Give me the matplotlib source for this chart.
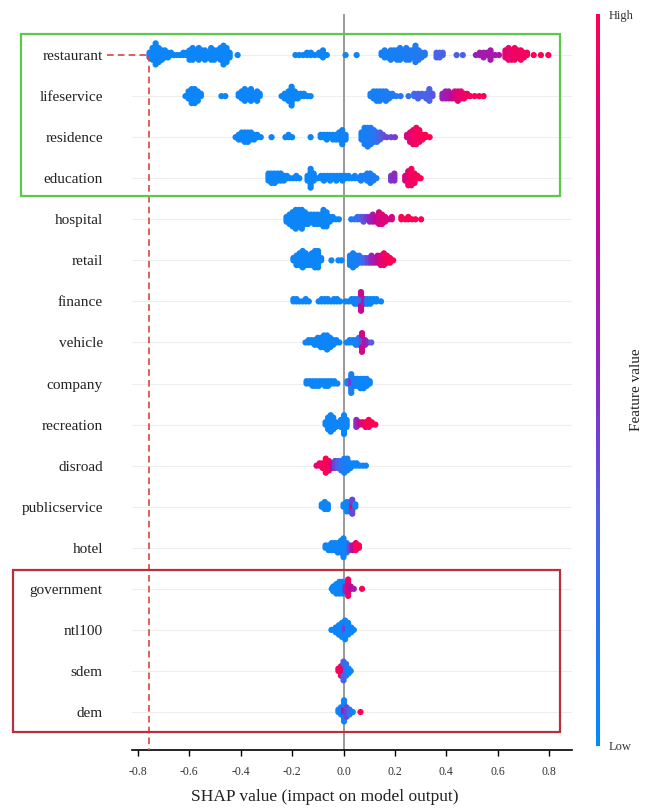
import numpy as np
import matplotlib
matplotlib.use("Agg")
import matplotlib.pyplot as plt
from matplotlib.colors import LinearSegmentedColormap
from matplotlib.cm import ScalarMappable
from matplotlib.patches import Rectangle

plt.rcParams['font.family'] = ['Liberation Serif', 'DejaVu Serif']
plt.rcParams['axes.unicode_minus'] = False

# each entry: (shap value, number of samples, normalised feature value)
restaurant = [
    (-0.755, 3, 0.05), (-0.743, 6, 0.05), (-0.731, 10, 0.05), (-0.719, 7, 0.05), (-0.707, 5, 0.05),
    (-0.695, 4, 0.05), (-0.683, 3, 0.05), (-0.671, 2, 0.05), (-0.659, 1, 0.05), (-0.647, 1, 0.05),
    (-0.635, 1, 0.05), (-0.623, 2, 0.05), (-0.611, 2, 0.05), (-0.599, 5, 0.05), (-0.587, 6, 0.05),
    (-0.575, 4, 0.05), (-0.563, 6, 0.05), (-0.551, 4, 0.05), (-0.539, 5, 0.05), (-0.527, 3, 0.05),
    (-0.515, 6, 0.05), (-0.503, 5, 0.05), (-0.491, 4, 0.05), (-0.479, 6, 0.05), (-0.467, 9, 0.05),
    (-0.455, 7, 0.05), (-0.443, 3, 0.05), (-0.412, 1, 0.05),
    (-0.187, 1, 0.05), (-0.172, 1, 0.05), (-0.157, 1, 0.05), (-0.142, 2, 0.05), (-0.127, 2, 0.05),
    (-0.112, 1, 0.05), (-0.095, 2, 0.05), (-0.080, 4, 0.05), (-0.065, 1, 0.05),
    (0.008, 1, 0.05), (0.051, 1, 0.05),
    (0.148, 2, 0.08), (0.160, 4, 0.08), (0.172, 3, 0.08), (0.184, 5, 0.1), (0.196, 4, 0.1),
    (0.208, 5, 0.1), (0.220, 6, 0.1), (0.232, 4, 0.1), (0.244, 6, 0.12), (0.256, 5, 0.12),
    (0.268, 4, 0.12), (0.280, 8, 0.12), (0.292, 5, 0.15), (0.304, 3, 0.15), (0.316, 2, 0.15),
    (0.362, 3, 0.3), (0.374, 3, 0.3), (0.386, 2, 0.3), (0.440, 1, 0.3), (0.464, 1, 0.3),
    (0.515, 1, 0.55), (0.530, 2, 0.6), (0.545, 3, 0.6), (0.558, 2, 0.6), (0.572, 5, 0.62),
    (0.590, 1, 0.6), (0.605, 1, 0.65),
    (0.630, 4, 0.85), (0.642, 6, 0.9), (0.654, 5, 0.9), (0.666, 6, 0.95), (0.678, 4, 0.9),
    (0.690, 5, 0.95), (0.702, 3, 0.95), (0.714, 2, 0.95), (0.740, 1, 1.0), (0.768, 1, 1.0),
    (0.797, 1, 1.0)]
lifeservice = [
    (-0.615, 1, 0.05), (-0.603, 4, 0.05), (-0.591, 7, 0.05), (-0.579, 7, 0.05), (-0.567, 5, 0.05),
    (-0.555, 2, 0.05), (-0.475, 1, 0.05), (-0.460, 1, 0.05),
    (-0.408, 2, 0.05), (-0.396, 4, 0.05), (-0.384, 6, 0.05), (-0.372, 4, 0.05), (-0.360, 6, 0.05),
    (-0.348, 3, 0.05), (-0.336, 5, 0.05), (-0.326, 2, 0.05),
    (-0.241, 1, 0.05), (-0.229, 3, 0.05), (-0.214, 5, 0.05), (-0.202, 9, 0.05), (-0.190, 4, 0.05),
    (-0.178, 3, 0.05), (-0.166, 2, 0.05), (-0.154, 2, 0.05), (-0.140, 1, 0.05), (-0.128, 1, 0.05),
    (0.105, 2, 0.08), (0.117, 4, 0.08), (0.129, 5, 0.1), (0.141, 5, 0.1), (0.153, 4, 0.1),
    (0.165, 5, 0.12), (0.177, 3, 0.12), (0.190, 2, 0.12), (0.205, 1, 0.15), (0.222, 1, 0.15),
    (0.253, 1, 0.2), (0.275, 2, 0.25), (0.290, 3, 0.3), (0.305, 2, 0.3), (0.322, 3, 0.3),
    (0.334, 6, 0.3), (0.346, 2, 0.35),
    (0.385, 3, 0.55), (0.397, 4, 0.6), (0.409, 4, 0.62), (0.421, 3, 0.7), (0.433, 4, 0.8),
    (0.445, 5, 0.85), (0.457, 4, 0.9), (0.469, 3, 0.9), (0.481, 2, 0.95), (0.493, 1, 0.95),
    (0.510, 1, 1.0), (0.528, 1, 1.0), (0.545, 1, 1.0)]
residence = [
    (-0.420, 1, 0.05), (-0.408, 3, 0.05), (-0.396, 4, 0.05), (-0.384, 5, 0.05), (-0.372, 5, 0.05),
    (-0.360, 4, 0.05), (-0.348, 3, 0.05), (-0.336, 2, 0.05), (-0.322, 1, 0.05),
    (-0.280, 1, 0.05), (-0.226, 1, 0.05), (-0.214, 2, 0.05), (-0.200, 1, 0.05), (-0.128, 1, 0.05),
    (-0.089, 2, 0.05), (-0.077, 2, 0.05), (-0.065, 3, 0.05), (-0.053, 2, 0.05), (-0.041, 3, 0.05),
    (-0.029, 3, 0.05), (-0.017, 4, 0.05), (-0.005, 7, 0.08), (0.008, 3, 0.08),
    (0.070, 4, 0.08), (0.082, 8, 0.1), (0.094, 9, 0.1), (0.106, 8, 0.12), (0.118, 6, 0.15),
    (0.130, 5, 0.2), (0.142, 4, 0.3), (0.154, 2, 0.35), (0.168, 1, 0.4), (0.185, 1, 0.4),
    (0.200, 1, 0.45),
    (0.247, 2, 0.8), (0.259, 5, 0.85), (0.271, 7, 0.9), (0.283, 8, 0.95), (0.295, 6, 0.95),
    (0.307, 3, 1.0), (0.319, 2, 1.0), (0.335, 1, 1.0)]
education = [
    (-0.292, 4, 0.05), (-0.280, 5, 0.05), (-0.268, 5, 0.05), (-0.256, 4, 0.05), (-0.244, 4, 0.05),
    (-0.232, 3, 0.05), (-0.220, 2, 0.05), (-0.208, 1, 0.05), (-0.196, 1, 0.05), (-0.184, 2, 0.05),
    (-0.172, 1, 0.05), (-0.140, 3, 0.05), (-0.128, 9, 0.05), (-0.116, 4, 0.05),
    (-0.100, 1, 0.05), (-0.088, 2, 0.05), (-0.076, 3, 0.05), (-0.064, 2, 0.05), (-0.052, 3, 0.05),
    (-0.040, 2, 0.05), (-0.028, 3, 0.05), (-0.016, 2, 0.05), (-0.004, 3, 0.05), (0.008, 2, 0.05),
    (0.020, 2, 0.05), (0.032, 1, 0.05), (0.044, 2, 0.05), (0.056, 1, 0.05), (0.068, 3, 0.08),
    (0.080, 2, 0.08), (0.092, 4, 0.1), (0.104, 5, 0.1), (0.116, 3, 0.12), (0.128, 1, 0.12),
    (0.185, 3, 0.45), (0.198, 4, 0.5),
    (0.240, 3, 0.8), (0.252, 7, 0.9), (0.264, 8, 0.95), (0.276, 5, 0.95), (0.288, 2, 1.0),
    (0.300, 1, 1.0)]
hospital = [
    (-0.222, 3, 0.05), (-0.210, 5, 0.05), (-0.198, 7, 0.05), (-0.186, 9, 0.05), (-0.174, 8, 0.05),
    (-0.162, 9, 0.05), (-0.150, 6, 0.05), (-0.138, 5, 0.05), (-0.126, 4, 0.05), (-0.114, 5, 0.05),
    (-0.102, 5, 0.05), (-0.090, 5, 0.05), (-0.078, 8, 0.05), (-0.066, 7, 0.05), (-0.054, 3, 0.05),
    (-0.042, 2, 0.05), (-0.030, 1, 0.05), (-0.018, 1, 0.05),
    (0.030, 1, 0.1), (0.042, 1, 0.15), (0.054, 2, 0.2), (0.066, 2, 0.3), (0.078, 3, 0.35),
    (0.090, 2, 0.45), (0.102, 3, 0.55), (0.114, 4, 0.6), (0.126, 3, 0.7), (0.138, 6, 0.8),
    (0.150, 5, 0.85), (0.162, 3, 0.85), (0.176, 1, 0.8), (0.188, 2, 0.8),
    (0.225, 2, 1.0), (0.240, 1, 1.0), (0.252, 2, 1.0), (0.266, 1, 1.0), (0.280, 1, 1.0),
    (0.302, 1, 1.0)]
retail = [
    (-0.195, 2, 0.05), (-0.183, 5, 0.05), (-0.171, 6, 0.05), (-0.159, 8, 0.05), (-0.147, 6, 0.05),
    (-0.135, 5, 0.05), (-0.123, 6, 0.05), (-0.111, 8, 0.05), (-0.099, 8, 0.05), (-0.087, 2, 0.05),
    (-0.047, 1, 0.05), (-0.020, 1, 0.05), (-0.008, 1, 0.05),
    (0.025, 5, 0.08), (0.037, 7, 0.08), (0.049, 5, 0.1), (0.061, 4, 0.12), (0.073, 3, 0.2),
    (0.085, 3, 0.3), (0.097, 3, 0.4), (0.109, 4, 0.55), (0.121, 3, 0.6), (0.133, 4, 0.7),
    (0.145, 5, 0.85), (0.157, 6, 0.9), (0.169, 4, 0.95), (0.181, 3, 1.0), (0.193, 1, 1.0)]
finance = [
    (-0.195, 2, 0.05), (-0.183, 2, 0.05), (-0.171, 1, 0.05), (-0.159, 1, 0.05), (-0.147, 2, 0.05),
    (-0.135, 1, 0.05),
    (-0.097, 1, 0.05), (-0.085, 2, 0.05), (-0.073, 2, 0.05), (-0.061, 2, 0.05), (-0.049, 1, 0.05),
    (-0.037, 2, 0.05), (-0.025, 2, 0.05), (-0.013, 1, 0.05),
    (0.008, 1, 0.05), (0.020, 1, 0.05), (0.032, 2, 0.05), (0.044, 3, 0.08), (0.056, 3, 0.1),
    (0.068, 4, 0.3), (0.068, 5, 0.75), (0.080, 3, 0.55), (0.092, 3, 0.1), (0.104, 3, 0.05),
    (0.116, 2, 0.05), (0.128, 2, 0.05), (0.146, 1, 0.05)]
vehicle = [
    (-0.148, 1, 0.05), (-0.136, 2, 0.05), (-0.124, 2, 0.05), (-0.112, 3, 0.05), (-0.100, 4, 0.05),
    (-0.088, 5, 0.05), (-0.076, 6, 0.05), (-0.064, 7, 0.05), (-0.052, 5, 0.05), (-0.040, 3, 0.05),
    (-0.028, 2, 0.05), (-0.016, 1, 0.05),
    (0.012, 1, 0.05), (0.024, 2, 0.05), (0.036, 2, 0.05), (0.048, 3, 0.08), (0.060, 4, 0.15),
    (0.072, 4, 0.35), (0.072, 5, 0.8), (0.084, 3, 0.6), (0.096, 1, 0.5), (0.108, 1, 0.3)]
company = [
    (-0.144, 2, 0.05), (-0.132, 2, 0.05), (-0.120, 3, 0.05), (-0.108, 3, 0.05), (-0.096, 3, 0.05),
    (-0.084, 2, 0.05), (-0.072, 3, 0.05), (-0.060, 3, 0.05), (-0.048, 2, 0.05), (-0.036, 2, 0.05),
    (-0.024, 1, 0.05),
    (0.015, 2, 0.05), (0.030, 4, 0.45), (0.030, 5, 0.1), (0.042, 4, 0.1), (0.054, 4, 0.05),
    (0.066, 5, 0.05), (0.078, 5, 0.05), (0.090, 4, 0.05), (0.102, 2, 0.05)]
recreation = [
    (-0.070, 2, 0.05), (-0.060, 6, 0.05), (-0.050, 8, 0.05), (-0.040, 6, 0.05), (-0.030, 3, 0.05),
    (-0.010, 4, 0.05), (0.002, 9, 0.05), (0.012, 4, 0.05),
    (0.050, 4, 0.5), (0.062, 2, 0.7), (0.074, 2, 0.9), (0.086, 3, 0.95), (0.098, 4, 1.0),
    (0.110, 2, 1.0), (0.124, 1, 1.0)]
disroad = [
    (-0.105, 1, 0.9), (-0.093, 2, 0.9), (-0.081, 3, 0.95), (-0.069, 7, 1.0), (-0.057, 5, 0.95),
    (-0.045, 3, 0.7), (-0.033, 4, 0.4), (-0.021, 4, 0.3), (-0.009, 5, 0.2), (0.003, 7, 0.1),
    (0.015, 6, 0.1), (0.027, 3, 0.05), (0.039, 2, 0.05), (0.051, 2, 0.05), (0.063, 1, 0.05),
    (0.075, 1, 0.05), (0.087, 1, 0.05)]
publicservice = [
    (-0.085, 2, 0.05), (-0.073, 4, 0.05), (-0.061, 3, 0.05),
    (0.000, 2, 0.05), (0.012, 5, 0.05), (0.024, 5, 0.1), (0.034, 3, 0.95), (0.034, 4, 0.4),
    (0.046, 2, 0.05)]
hotel = [
    (-0.070, 2, 0.05), (-0.058, 3, 0.05), (-0.046, 4, 0.05), (-0.034, 4, 0.05), (-0.022, 5, 0.05),
    (-0.010, 6, 0.05), (0.000, 9, 0.05), (0.012, 5, 0.1), (0.024, 3, 0.4), (0.036, 3, 0.7),
    (0.048, 4, 0.95), (0.060, 2, 1.0)]
government = [
    (-0.046, 1, 0.05), (-0.040, 3, 0.05), (-0.028, 5, 0.05), (-0.016, 6, 0.05), (-0.004, 6, 0.05),
    (0.008, 3, 0.5), (0.018, 8, 0.9), (0.028, 2, 0.7), (0.040, 1, 0.6), (0.072, 1, 1.0)]
ntl100 = [
    (-0.047, 1, 0.05), (-0.030, 3, 0.05), (-0.018, 5, 0.05), (-0.006, 7, 0.05), (0.006, 4, 0.4),
    (0.006, 5, 0.05), (0.018, 6, 0.05), (0.030, 3, 0.05), (0.040, 1, 0.05)]
sdem = [
    (-0.020, 2, 1.0), (-0.010, 5, 0.95), (0.000, 4, 0.8), (0.000, 5, 0.3), (0.010, 6, 0.2),
    (0.020, 3, 0.05), (0.028, 1, 0.05)]
dem = [
    (-0.020, 2, 0.05), (-0.010, 4, 0.1), (0.002, 4, 0.6), (0.002, 6, 0.05), (0.012, 5, 0.4),
    (0.024, 3, 0.2), (0.036, 1, 0.05), (0.066, 1, 1.0)]

features = ["restaurant", "lifeservice", "residence", "education", "hospital", "retail",
            "finance", "vehicle", "company", "recreation", "disroad", "publicservice",
            "hotel", "government", "ntl100", "sdem", "dem"]
samples = [restaurant, lifeservice, residence, education, hospital, retail, finance,
           vehicle, company, recreation, disroad, publicservice, hotel, government,
           ntl100, sdem, dem]
xticks = [-0.8, -0.6, -0.4, -0.2, 0.0, 0.2, 0.4, 0.6, 0.8]
xtick_labels = ["-0.8", "-0.6", "-0.4", "-0.2", "0.0", "0.2", "0.4", "0.6", "0.8"]

red_blue = LinearSegmentedColormap.from_list(
    "red_blue", [(0.0, "#008bfb"), (0.3, "#4a62e8"), (0.5, "#8a2ac4"),
                 (0.7, "#bd0a9c"), (1.0, "#ff0052")])

W, H = 646, 808
fig = plt.figure(figsize=(W / 100, H / 100), dpi=100)
ax = fig.add_axes([132 / W, 1 - 750 / H, 440 / W, 736 / H])

n = len(features)
layer_dy = 0.057
for i, grp in enumerate(samples):
    y0 = n - 1 - i
    ax.axhline(y0, color="#eeeeee", lw=0.8, zorder=0)
    xs, ys, cs = [], [], []
    piles = {}
    for v, cnt, fv in grp:
        for _ in range(cnt):
            k = piles.get(v, 0)
            piles[v] = k + 1
            off = np.ceil(k / 2) * (1 if k % 2 else -1) * layer_dy
            xs.append(v)
            ys.append(y0 + off)
            cs.append(fv)
    ax.scatter(xs, ys, c=cs, cmap=red_blue, vmin=0, vmax=1, s=20, linewidths=0, zorder=3)

ax.axvline(0, color="#999999", lw=1.4, zorder=1)

ax.set_xlim(-0.823, 0.889)
ax.set_ylim(-0.925, 17.0)
ax.set_yticks(range(n))
ax.set_yticklabels(features[::-1], fontsize=11, color="#222222")
ax.tick_params(axis="y", length=0, pad=21)
ax.set_xticks(xticks)
ax.set_xticklabels(xtick_labels)
ax.tick_params(axis="x", length=4.5, width=1, labelsize=8.5, pad=7, labelcolor="#333333")
for s in ["left", "right", "top"]:
    ax.spines[s].set_visible(False)
ax.spines["bottom"].set_linewidth(1.2)
ax.set_xlabel("SHAP value (impact on model output)", fontsize=12.5, color="#222222")
ax.xaxis.set_label_coords((325 - 132) / 440, -(797 - 750) / 736)
ax.xaxis.label.set_va("center")

# dashed marker at the lowest restaurant contribution
rmin = min(v for v, _, _ in restaurant)
red_dash = dict(color="#d9463f", lw=1.2, dashes=(4, 2.5), clip_on=False, zorder=4)
ax.plot([rmin, rmin], [n - 1, ax.get_ylim()[0]], **red_dash)
ax.plot([-0.922, rmin], [n - 1, n - 1], **red_dash)

# colour bar
cax = fig.add_axes([596 / W, 1 - 746 / H, 4 / W, 732 / H])
sm = ScalarMappable(cmap=red_blue)
sm.set_clim(0, 1)
cb = fig.colorbar(sm, cax=cax, ticks=[0, 1])
cb.set_ticklabels(["Low", "High"])
cb.outline.set_visible(False)
cax.tick_params(length=0, labelsize=9, pad=6, labelcolor="#333333")
fig.text(637 / W, 1 - 390 / H, "Feature value", rotation=90, ha="center", va="center",
         fontsize=11, color="#222222")

# highlighted groups of features
fig.add_artist(Rectangle((21 / W, 1 - 196 / H), 539 / W, 162 / H, transform=fig.transFigure,
                         fill=False, ec="#5cc94a", lw=1.6))
fig.add_artist(Rectangle((13 / W, 1 - 732 / H), 547 / W, 162 / H, transform=fig.transFigure,
                         fill=False, ec="#b8303a", lw=1.6))

fig.savefig("out.png", dpi=100)
